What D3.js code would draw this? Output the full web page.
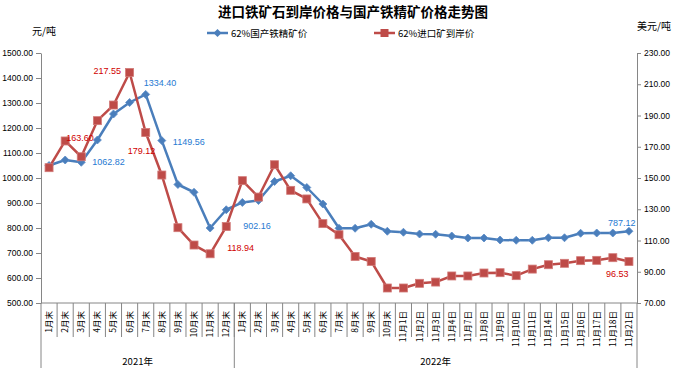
<!DOCTYPE html>
<html><head><meta charset="utf-8">
<script src="https://cdn.jsdelivr.net/npm/d3@7"></script>
<style>body{margin:0;background:#fff}svg{display:block}</style>
</head><body>
<svg id="c" width="677" height="368"></svg>
<script>
const categories = ["1月末","2月末","3月末","4月末","5月末","6月末","7月末","8月末","9月末","10月末","11月末","12月末",
 "1月末","2月末","3月末","4月末","5月末","6月末","7月末","8月末","9月末","10月末",
 "11月1日","11月2日","11月3日","11月4日","11月7日","11月8日","11月9日","11月10日","11月11日","11月14日","11月15日","11月16日","11月17日","11月18日","11月21日"];
const years = ["2021年","2022年"];
const yearCounts = [12, 25];
const domestic = [1050,1072,1062.82,1152,1256,1302,1334.40,1149.56,974,943,800,873,902.16,910,986,1009,962,896,799,799,815,787,783,776,775,768,760,760,752,751,751,761,761,779,780,780,787.12];
const imported = [156.6,173.7,163.60,186.7,196.7,217.55,179.12,151.9,118.2,107.1,101.5,118.94,148.3,137.8,158.5,142.1,136.6,120.8,113.7,99.8,96.6,79.6,79.6,82.6,83.4,87.3,87.3,89.2,89.4,87.5,91.7,94.5,95.4,97.1,97.3,99.0,96.53];
const leftTicks = [500,600,700,800,900,1000,1100,1200,1300,1400,1500];
const rightTicks = [70,90,110,130,150,170,190,210,230];
const seriesNames = ["62%国产铁精矿价","62%进口矿到岸价"];
const domesticLabelIdx = [2,6,7,12,36];
const importedLabelIdx = [2,5,6,11,36];

const svg = d3.select("#c");
const L = 41, R = 637, T = 53, B = 303;
const blue = "#4A7EBB", red = "#BE4B48";
const x = d3.scaleBand().domain(d3.range(categories.length)).range([L, R]).padding(0);
const yL = d3.scaleLinear().domain([500,1500]).range([B, T]);
const yR = d3.scaleLinear().domain([70,230]).range([B, T]);
const cx = i => x(i) + x.bandwidth()/2;
const numFont = "'Liberation Sans', Arial, sans-serif";
const cjk = "'Noto Sans CJK SC', sans-serif";

// title
svg.append("text").attr("x", 218).attr("y", 17).attr("font-family", cjk).attr("font-weight", "bold")
  .attr("font-size", 13.5).attr("fill", "#000").text("进口铁矿石到岸价格与国产铁精矿价格走势图");
svg.append("text").attr("x", 32).attr("y", 35).attr("font-family", cjk).attr("font-size", 10).text("元/吨");
svg.append("text").attr("x", 637).attr("y", 30).attr("font-family", cjk).attr("font-size", 10).text("美元/吨");

// axes
const axL = svg.append("g").attr("transform", `translate(${L},0)`)
  .call(d3.axisLeft(yL).tickValues(leftTicks).tickFormat(d3.format(".2f")).tickSize(5).tickSizeOuter(0).tickPadding(3));
const axR = svg.append("g").attr("transform", `translate(${R},0)`)
  .call(d3.axisRight(yR).tickValues(rightTicks).tickFormat(d3.format(".2f")).tickSize(4).tickSizeOuter(0).tickPadding(3));
[axL, axR].forEach(g => {
  g.select(".domain").attr("stroke", "#868686");
  g.selectAll(".tick line").attr("stroke", "#868686");
  g.selectAll(".tick text").attr("font-family", numFont).attr("font-size", 8.5).attr("fill", "#000");
});
// extend vertical axes lines to bottom
svg.append("line").attr("x1", L).attr("x2", L).attr("y1", B).attr("y2", 368).attr("stroke", "#868686");
svg.append("line").attr("x1", R).attr("x2", R).attr("y1", B).attr("y2", 368).attr("stroke", "#868686");
// bottom axis
svg.append("line").attr("x1", L).attr("x2", R).attr("y1", B).attr("y2", B).attr("stroke", "#868686");
const sep = svg.append("g");
d3.range(1, categories.length).forEach(i => {
  sep.append("line").attr("x1", x(i)).attr("x2", x(i)).attr("y1", B).attr("y2", 337).attr("stroke", "#868686");
});
let acc = 0;
years.forEach((yname, k) => {
  const i0 = acc, i1 = acc + yearCounts[k];
  const xs = x(i0), xe = i1 < categories.length ? x(i1) : R;
  if (i1 < categories.length) sep.append("line").attr("x1", xe).attr("x2", xe).attr("y1", B).attr("y2", 368).attr("stroke", "#868686");
  svg.append("text").attr("x", (xs + xe)/2).attr("y", 365).attr("text-anchor", "middle")
    .attr("font-family", cjk).attr("font-size", 9.5).text(yname);
  acc = i1;
});
svg.append("g").selectAll("text").data(categories).join("text")
  .attr("transform", (d, i) => `translate(${cx(i) + 3},311) rotate(-90)`)
  .attr("text-anchor", "end").attr("font-family", cjk).attr("font-size", 8.5).text(d => d);

// lines
const lineL = d3.line().x((d, i) => cx(i)).y(d => yL(d));
const lineR = d3.line().x((d, i) => cx(i)).y(d => yR(d));
svg.append("path").datum(domestic).attr("d", lineL).attr("fill", "none").attr("stroke", blue).attr("stroke-width", 2.5).attr("stroke-linejoin", "round");
svg.append("path").datum(imported).attr("d", lineR).attr("fill", "none").attr("stroke", red).attr("stroke-width", 2.5).attr("stroke-linejoin", "round");
const diamond = (px, py, r) => `M${px},${py-r}L${px+r},${py}L${px},${py+r}L${px-r},${py}Z`;
svg.append("g").selectAll("path").data(domestic).join("path")
  .attr("d", (d, i) => diamond(cx(i), yL(d), 4)).attr("fill", blue).attr("stroke", "#5B8CC8").attr("stroke-width", 0.8);
svg.append("g").selectAll("rect").data(imported).join("rect")
  .attr("x", (d, i) => cx(i) - 4).attr("y", d => yR(d) - 4).attr("width", 8).attr("height", 8)
  .attr("fill", red).attr("stroke", "#D27A78").attr("stroke-width", 0.8);

// data labels
const blueLblOff = {2:[11,0],6:[-2,-12],7:[11,1],12:[1,23],36:[-21,-8]};
const redLblOff = {2:[-15,-19],5:[-36,-1.5],6:[-18,18.5],11:[1,21.5],36:[-23,12]};
svg.append("g").selectAll("text").data(domesticLabelIdx).join("text")
  .attr("x", i => cx(i) + blueLblOff[i][0]).attr("y", i => yL(domestic[i]) + blueLblOff[i][1]).attr("dy", "0.35em")
  .attr("font-family", numFont).attr("font-size", 9).attr("fill", "#1F7AD2").text(i => domestic[i].toFixed(2));
svg.append("g").selectAll("text").data(importedLabelIdx).join("text")
  .attr("x", i => cx(i) + redLblOff[i][0]).attr("y", i => yR(imported[i]) + redLblOff[i][1]).attr("dy", "0.35em")
  .attr("font-family", numFont).attr("font-size", 9).attr("fill", "#D00000").text(i => imported[i].toFixed(2));

// legend
const lg = [{x:207, c:blue, t:seriesNames[0], m:"d"}, {x:374, c:red, t:seriesNames[1], m:"s"}];
lg.forEach(o => {
  svg.append("line").attr("x1", o.x).attr("x2", o.x + 21).attr("y1", 33).attr("y2", 33).attr("stroke", o.c).attr("stroke-width", 2.5);
  if (o.m === "d") svg.append("path").attr("d", diamond(o.x + 10.5, 33, 4)).attr("fill", o.c);
  else svg.append("rect").attr("x", o.x + 6.5).attr("y", 29).attr("width", 8).attr("height", 8).attr("fill", o.c);
  svg.append("text").attr("x", o.x + 24).attr("y", 36.5).attr("font-family", cjk).attr("font-size", 9.5).text(o.t);
});
</script>
</body></html>
